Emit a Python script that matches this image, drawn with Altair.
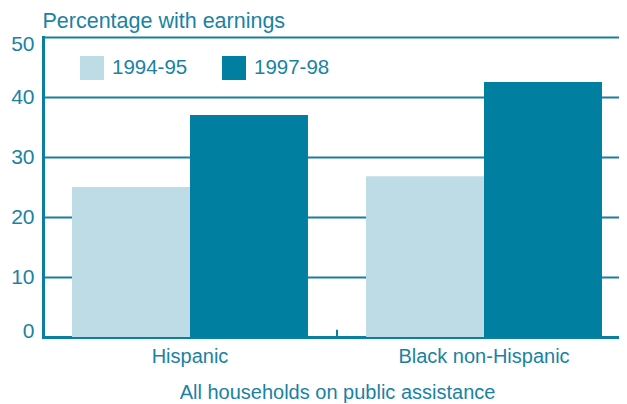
import altair as alt
import pandas as pd

groups = ["Hispanic", "Hispanic", "Black non-Hispanic", "Black non-Hispanic"]
periods = ["1994-95", "1997-98", "1994-95", "1997-98"]
values = [25, 37, 26.8, 42.5]

group_order = ["Hispanic", "Black non-Hispanic"]
period_order = ["1994-95", "1997-98"]
colors = ["#bedce6", "#007fa0"]

df = pd.DataFrame({"group": groups, "period": periods, "value": values})
tick_df = pd.DataFrame({"group": ["Black non-Hispanic"], "y0": [0], "y1": [1.2]})

TXT = "#1a82a3"
FONT = "Liberation Sans"

x_scale = alt.Scale(domain=group_order, paddingInner=0, paddingOuter=0, range=[0, 588])

bars = alt.Chart(df).mark_bar().encode(
    x=alt.X("group:N", scale=x_scale, sort=group_order,
            axis=alt.Axis(title="All households on public assistance", labelAngle=0,
                          ticks=False, labelPadding=9, labelFontSize=20,
                          titleFontSize=20, titleFontWeight="normal", titlePadding=16,
                          titleX=294,
                          domainWidth=3, domainColor="#0a7fa0",
                          labelColor=TXT, titleColor=TXT, labelFont=FONT, titleFont=FONT)),
    xOffset=alt.XOffset("period:N", sort=period_order,
                        scale=alt.Scale(paddingOuter=0.246, paddingInner=0)),
    y=alt.Y("value:Q", scale=alt.Scale(domain=[0, 50], nice=False),
            axis=alt.Axis(title="Percentage with earnings", values=[0, 10, 20, 30, 40, 50],
                          titleAngle=0, titleAlign="left", titleBaseline="alphabetic",
                          titleX=-1, titleY=-10, titleFontSize=21.5, titleFontWeight="normal",
                          labelFontSize=21, labelPadding=9, ticks=False,
                          labelFlush=True, labelFlushOffset=4,
                          grid=True, gridColor="#1a7fa0", gridWidth=2,
                          domainWidth=3, domainColor="#0a7fa0",
                          labelColor=TXT, titleColor=TXT, labelFont=FONT, titleFont=FONT)),
    color=alt.Color("period:N", sort=period_order,
                    scale=alt.Scale(domain=period_order, range=colors),
                    legend=alt.Legend(title=None, orient="none", legendX=37, legendY=19,
                                      direction="horizontal", symbolType="square",
                                      symbolSize=576, symbolStrokeWidth=0, labelFontSize=20.5,
                                      labelColor=TXT, labelFont=FONT, labelOffset=8,
                                      columnPadding=34, symbolOpacity=1)),
)

tick = alt.Chart(tick_df).mark_rule(color="#0a7fa0", strokeWidth=2).encode(
    x=alt.X("group:N", scale=x_scale, sort=group_order, bandPosition=0),
    y="y0:Q",
    y2="y1:Q",
)

chart = alt.layer(bars, tick).properties(
    width=576, height=300,
    autosize=alt.AutoSizeParams(type="none"),
    padding={"left": 35, "top": 29, "right": 0, "bottom": 70},
).configure_view(stroke=None).configure_axis(domainCap="square")

chart.save("out.html", embed_options={"renderer": "svg", "actions": False})
